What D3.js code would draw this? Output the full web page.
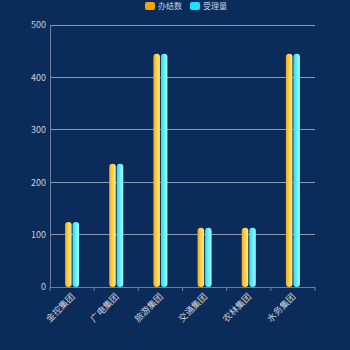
<!DOCTYPE html>
<html><head><meta charset="utf-8">
<script src="https://cdn.jsdelivr.net/npm/d3@7"></script>
<style>html,body{margin:0;padding:0;background:#0b2c5a;}svg{display:block;}</style>
</head><body>
<script>
const categories = ["金控集团","广电集团","旅游集团","交通集团","农林集团","水务集团"];
const doneCount = [124, 235, 445, 113, 113, 445];
const acceptCount = [124, 235, 445, 113, 113, 445];
const seriesNames = ["办结数","受理量"];
const yTicks = [0,100,200,300,400,500];

const W=350,H=350;
const m={l:50,r:35,t:25,b:63};
const svg=d3.select("body").append("svg").attr("width",W).attr("height",H);
svg.append("rect").attr("width",W).attr("height",H).attr("fill","#0b2c5a");
const defs=svg.append("defs");
const g1=defs.append("linearGradient").attr("id","gy").attr("x1",0).attr("x2",1).attr("y1",0).attr("y2",0);
g1.append("stop").attr("offset","0%").attr("stop-color","#f7a91c");
g1.append("stop").attr("offset","60%").attr("stop-color","#fddb55");
g1.append("stop").attr("offset","100%").attr("stop-color","#ffe98a");
const g2=defs.append("linearGradient").attr("id","gc").attr("x1",0).attr("x2",1).attr("y1",0).attr("y2",0);
g2.append("stop").attr("offset","0%").attr("stop-color","#2fd9f0");
g2.append("stop").attr("offset","60%").attr("stop-color","#6ff3ff");
g2.append("stop").attr("offset","100%").attr("stop-color","#a8fbff");

const x=d3.scaleBand().domain(categories).range([m.l,W-m.r]);
const y=d3.scaleLinear().domain([0,500]).range([H-m.b,m.t]);

// grid
svg.append("g").selectAll("line").data(yTicks.slice(1)).join("line")
 .attr("x1",m.l).attr("x2",W-m.r).attr("y1",d=>y(d)).attr("y2",d=>y(d))
 .attr("stroke","#8a9ab5").attr("stroke-width",1).attr("shape-rendering","crispEdges");

// y axis
const ya=svg.append("g").attr("transform",`translate(${m.l},0)`).call(d3.axisLeft(y).tickValues(yTicks).tickSize(0).tickPadding(4));
ya.select(".domain").attr("stroke","#6d7f9c");
ya.selectAll("text").attr("fill","#c8d0dc").style("font-family","'Noto Sans CJK SC',sans-serif").style("font-size","9px");

// x axis
const xa=svg.append("g").attr("transform",`translate(0,${H-m.b})`);
xa.append("line").attr("x1",m.l).attr("x2",W-m.r).attr("y1",0.5).attr("y2",0.5).attr("stroke","#6d7f9c");
xa.selectAll("line.t").data(d3.range(categories.length+1)).join("line").attr("class","t")
 .attr("x1",i=>m.l+i*x.step()).attr("x2",i=>m.l+i*x.step()).attr("y1",0).attr("y2",4).attr("stroke","#6d7f9c");
xa.selectAll("text").data(categories).join("text")
 .attr("transform",d=>`translate(${x(d)+x.bandwidth()/2+1},${8}) rotate(-45)`)
 .attr("text-anchor","end").attr("dy","0.35em")
 .attr("fill","#c8d0dc").style("font-family","'Noto Sans CJK SC',sans-serif").style("font-size","9px")
 .text(d=>d);

// bars
const bw=6.5,gap=1;
function bars(data,fill,off){
 svg.append("g").selectAll("rect").data(data).join("rect")
  .attr("x",(d,i)=>x(categories[i])+x.bandwidth()/2+off)
  .attr("y",d=>y(d))
  .attr("width",bw).attr("height",d=>y(0)-y(d))
  .attr("rx",bw/2).attr("ry",bw/2)
  .attr("fill",fill);
}
bars(doneCount,"url(#gy)",-bw-gap/2);
bars(acceptCount,"url(#gc)",gap/2);

// legend
const lg=svg.append("g").attr("transform","translate(145,6)");
const lcol=["#f7a300","#12e6ff"];
seriesNames.forEach((n,i)=>{
 const gx=i*45;
 lg.append("rect").attr("x",gx).attr("y",-4).attr("width",10).attr("height",8).attr("rx",2).attr("fill",lcol[i]);
 lg.append("text").attr("x",gx+13).attr("y",0).attr("dy","0.35em").attr("fill","#c8d0dc")
  .style("font-family","'Noto Sans CJK SC',sans-serif").style("font-size","8px").text(n);
});
</script>
</body></html>
